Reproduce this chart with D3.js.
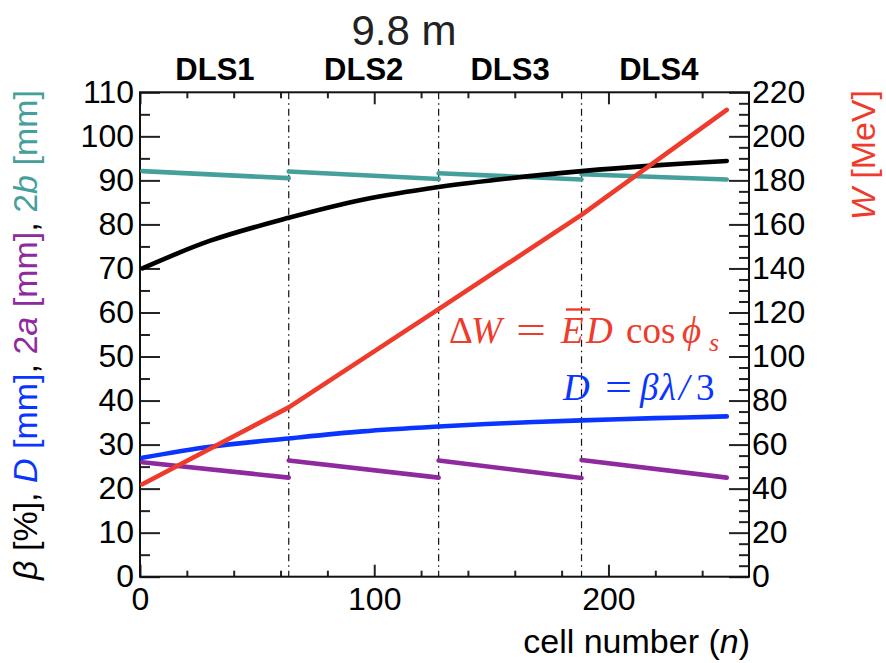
<!DOCTYPE html>
<html>
<head>
<meta charset="utf-8">
<script src="https://cdn.jsdelivr.net/npm/d3@7"></script>
<style>
  html, body { margin: 0; padding: 0; background: #fff; }
  svg { display: block; }
  text { white-space: pre; }
</style>
</head>
<body>
<svg id="chart" width="886" height="663"></svg>
<script>
// ---------------- data ----------------
const sectionNames = ["DLS1", "DLS2", "DLS3", "DLS4"];
const sectionLabelCell = [32, 95.5, 158, 221.5];
const sectionBoundaries = [63.5, 127.5, 188.5];
const sectionStart = [1, 63.5, 127.5, 188.5];
const sectionEnd = [63.5, 127.5, 188.5, 250.5];

// 2a [mm] (purple), start / end of each section
const a2Start = [26.0, 26.4, 26.4, 26.5];
const a2End = [22.5, 22.5, 22.4, 22.5];
// 2b [mm] (teal), start / end of each section
const b2Start = [92.1, 92.0, 91.6, 91.4];
const b2End = [90.5, 90.3, 90.2, 90.2];

// beta [%] (black) and D [mm] (blue)
const betaCells = [1, 30, 63.5, 95, 127.5, 158, 188.5, 220, 250.5];
const betaPct = [70.0, 76.3, 81.5, 85.6, 88.5, 90.5, 92.1, 93.4, 94.4];
const diskD = [27.0, 29.5, 31.4, 33.0, 34.1, 34.9, 35.5, 36.0, 36.4];

// W [MeV] (red)
const energyCells = [1, 63.5, 127.5, 188.5, 250.5];
const energyW = [42.0, 76.9, 121.5, 164.3, 212.0];

const xMajor = [0, 100, 200];
const xMinor = [20, 40, 60, 80, 120, 140, 160, 180, 220, 240];
const yLeftMajor = [0, 10, 20, 30, 40, 50, 60, 70, 80, 90, 100, 110];
const yRightMajor = [0, 20, 40, 60, 80, 100, 120, 140, 160, 180, 200, 220];

// ---------------- layout ----------------
const C = {
  red: "#ee3b2b", blue: "#0a35ff", purple: "#8e2a9e", teal: "#45a09c", black: "#000"
};
const L = 140, R = 749, T = 92.3, B = 576.7;
const svg = d3.select("#chart");
const FONT = "'Liberation Sans', Arial, Helvetica, sans-serif";
const SERIF = "'Liberation Serif', 'Times New Roman', serif";

const x = d3.scaleLinear().domain([0, 260]).range([L, R]);
const yL = d3.scaleLinear().domain([0, 110]).range([B, T]);
const yR = d3.scaleLinear().domain([0, 220]).range([B, T]);

// section boundary dash-dot lines
svg.append("g").selectAll("line").data(sectionBoundaries).join("line")
  .attr("x1", d => x(d)).attr("x2", d => x(d))
  .attr("y1", T).attr("y2", B)
  .attr("stroke", "#111").attr("stroke-width", 1.2)
  .attr("stroke-dasharray", "7,4,1.5,4");

// ---------------- axes ----------------
function styleAxis(g) {
  g.select(".domain").remove();
  g.selectAll(".tick line").attr("stroke", "#222").attr("stroke-width", 2);
  g.selectAll("text").attr("font-family", FONT).attr("font-size", 32).attr("fill", "#000");
}
const fmt = d3.format("d");

// left
svg.append("g").attr("transform", `translate(${L},0)`)
  .call(d3.axisLeft(yL).tickValues(yLeftMajor).tickSize(-20).tickSizeOuter(0).tickPadding(6).tickFormat(fmt))
  .call(styleAxis);
svg.append("g").attr("transform", `translate(${L},0)`)
  .call(d3.axisLeft(yL).tickValues(d3.range(5, 110, 10)).tickSize(-10).tickSizeOuter(0).tickFormat(""))
  .call(styleAxis);
// right
svg.append("g").attr("transform", `translate(${R},0)`)
  .call(d3.axisRight(yR).tickValues(yRightMajor).tickSize(-20).tickSizeOuter(0).tickPadding(3).tickFormat(fmt))
  .call(styleAxis);
svg.append("g").attr("transform", `translate(${R},0)`)
  .call(d3.axisRight(yR).tickValues(d3.range(5, 220, 5).filter(v => v % 20 !== 0)).tickSize(-10).tickSizeOuter(0).tickFormat(""))
  .call(styleAxis);
// bottom
svg.append("g").attr("transform", `translate(0,${B})`)
  .call(d3.axisBottom(x).tickValues(xMajor).tickSize(-12).tickSizeOuter(0).tickPadding(11).tickFormat(fmt))
  .call(styleAxis);
svg.append("g").attr("transform", `translate(0,${B})`)
  .call(d3.axisBottom(x).tickValues(xMinor).tickSize(-6).tickSizeOuter(0).tickFormat(""))
  .call(styleAxis);
// top
svg.append("g").attr("transform", `translate(0,${T})`)
  .call(d3.axisTop(x).tickValues(xMajor).tickSize(-12).tickSizeOuter(0).tickFormat(""))
  .call(styleAxis);
svg.append("g").attr("transform", `translate(0,${T})`)
  .call(d3.axisTop(x).tickValues(xMinor).tickSize(-6).tickSizeOuter(0).tickFormat(""))
  .call(styleAxis);

// frame
svg.append("rect").attr("x", L).attr("y", T).attr("width", R - L).attr("height", B - T)
  .attr("fill", "none").attr("stroke", "#111").attr("stroke-width", 2);

// ---------------- curves ----------------
const plot = svg.append("g");
const lineL = d3.line().x(d => x(d[0])).y(d => yL(d[1]));
const lineLS = d3.line().x(d => x(d[0])).y(d => yL(d[1])).curve(d3.curveCatmullRom.alpha(0.5));
const lineR = d3.line().x(d => x(d[0])).y(d => yR(d[1]));

function drawPath(d, gen, color) {
  plot.append("path").attr("d", gen(d)).attr("fill", "none")
    .attr("stroke", color).attr("stroke-width", 4.6)
    .attr("stroke-linecap", "round").attr("stroke-linejoin", "round");
}
// teal 2b
sectionNames.forEach((s, i) => drawPath([[sectionStart[i], b2Start[i]], [sectionEnd[i], b2End[i]]], lineL, C.teal));
// black beta
drawPath(betaCells.map((c, i) => [c, betaPct[i]]), lineLS, C.black);
// purple 2a
sectionNames.forEach((s, i) => drawPath([[sectionStart[i], a2Start[i]], [sectionEnd[i], a2End[i]]], lineL, C.purple));
// blue D
drawPath(betaCells.map((c, i) => [c, diskD[i]]), lineLS, C.blue);
// red W
drawPath(energyCells.map((c, i) => [c, energyW[i]]), lineR, C.red);

// ---------------- texts ----------------
svg.append("text").attr("x", 404).attr("y", 45).attr("text-anchor", "middle")
  .attr("font-family", FONT).attr("font-size", 42).attr("fill", "#222").text("9.8 m");

svg.append("g").selectAll("text").data(sectionNames).join("text")
  .attr("x", (d, i) => x(sectionLabelCell[i])).attr("y", 80)
  .attr("text-anchor", "middle").attr("font-family", FONT).attr("font-weight", "bold")
  .attr("font-size", 31).attr("fill", "#000").text(d => d);

// x title
const xt = svg.append("text").attr("x", R + 1).attr("y", 653).attr("text-anchor", "end")
  .attr("font-family", FONT).attr("font-size", 34).attr("fill", "#000");
xt.append("tspan").text("cell number (");
xt.append("tspan").attr("font-style", "italic").text("n");
xt.append("tspan").text(")");

// left title
const lt = svg.append("text").attr("transform", "translate(37,90) rotate(-90)")
  .attr("text-anchor", "end").attr("font-family", FONT).attr("font-size", 34);
[
  ["β", C.black, true], [" [%], ", C.black, false],
  ["D", C.blue, true], [" [mm]", C.blue, false], [", ", C.black, false],
  ["2", C.purple, false], ["a", C.purple, true], [" [mm]", C.purple, false], [", ", C.black, false],
  ["2", C.teal, false], ["b", C.teal, true], [" [mm]", C.teal, false]
].forEach(([t, c, it]) => lt.append("tspan").attr("fill", c).attr("font-style", it ? "italic" : "normal").text(t));

// right title
const rt = svg.append("text").attr("transform", "translate(875,90) rotate(-90)")
  .attr("text-anchor", "end").attr("font-family", FONT).attr("font-size", 34).attr("fill", C.red);
rt.append("tspan").attr("font-style", "italic").text("W");
rt.append("tspan").text(" [MeV]");

// formula: ΔW = Ē D cos ϕ_s  (single text element with placed pieces)
const f1y = 343;
const f1 = svg.append("text").attr("y", f1y).attr("fill", C.red)
  .attr("font-family", SERIF).attr("font-size", 37);
f1.append("tspan").attr("x", 449).text("Δ");
f1.append("tspan").attr("x", 471).attr("font-style", "italic").text("W");
f1.append("tspan").attr("x", 516).attr("textLength", 30).attr("lengthAdjust", "spacingAndGlyphs").text("=");
f1.append("tspan").attr("x", 561).attr("font-style", "italic").text("E");
f1.append("tspan").attr("x", 586).attr("font-style", "italic").text("D");
f1.append("tspan").attr("x", 626).text("cos");
f1.append("tspan").attr("x", 682).attr("font-style", "italic").text("ϕ");
f1.append("tspan").attr("x", 709).attr("dy", 8).attr("font-style", "italic").attr("font-size", 26).text("s");
svg.append("line").attr("x1", 566).attr("x2", 590).attr("y1", 309.5).attr("y2", 309.5)
  .attr("stroke", C.red).attr("stroke-width", 2.4);

// formula: D = βλ/3
const f2 = svg.append("text").attr("y", 400).attr("fill", C.blue)
  .attr("font-family", SERIF).attr("font-size", 37);
f2.append("tspan").attr("x", 563).attr("font-style", "italic").text("D");
f2.append("tspan").attr("x", 605).attr("textLength", 27).attr("lengthAdjust", "spacingAndGlyphs").text("=");
f2.append("tspan").attr("x", 640).attr("font-style", "italic").text("β");
f2.append("tspan").attr("x", 660).attr("font-style", "italic").text("λ");
f2.append("tspan").attr("x", 679).attr("font-style", "italic").text("/");
f2.append("tspan").attr("x", 696).text("3");
</script>
</body>
</html>
